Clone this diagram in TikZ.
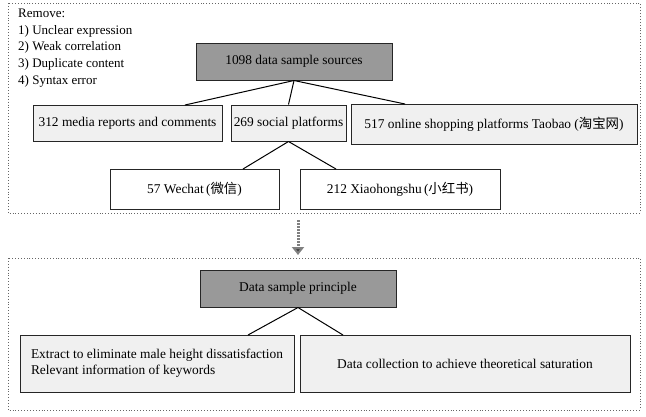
\documentclass[tikz,border=0pt]{standalone}
\usepackage{fontspec}
\setmainfont{Liberation Serif}
\newfontfamily\cjk{Noto Sans CJK SC}
\usetikzlibrary{arrows.meta}
\begin{document}
\begin{tikzpicture}[x=1pt,y=-1pt,
  bx/.style={draw=black!85,line width=1pt,fill=#1,inner sep=0pt,font=\fontsize{13.4}{16}\selectfont,align=center},
  bx/.default=black!6,
  frame/.style={draw=black!60,dotted,line width=0.9pt},
  ln/.style={draw=black,line width=1pt}]
\useasboundingbox (0,0) rectangle (646,416);
\draw[frame] (8,3) rectangle (640,213);
\draw[frame] (8,258) rectangle (640,410);
\node[anchor=north west,align=left,inner sep=0pt,font=\fontsize{13}{16.6}\selectfont] (rm) at (18,9) {Remove:\\1) Unclear expression\\2) Weak correlation\\3) Duplicate content\\4) Syntax error};
\node[bx=black!40,minimum width=196pt,minimum height=37pt] (root) at (294,61.5) {1098 data sample sources};
\node[bx,minimum width=189pt,minimum height=36pt] (a) at (127.5,123) {312 media reports and comments};
\node[bx,minimum width=115pt,minimum height=36pt] (b) at (288.5,123) {269 social platforms};
\node[bx,minimum width=286pt,minimum height=40pt] (c) at (494,124) {517 online shopping platforms Taobao ({\cjk 淘宝网})};
\node[bx=white,minimum width=169pt,minimum height=40pt] (d) at (194.5,189) {57 Wechat\,({\cjk 微信})};
\node[bx=white,minimum width=200pt,minimum height=40pt] (e) at (400,189) {212 Xiaohongshu\,({\cjk 小红书})};
\draw[ln] (root.south) -- (185,105);
\draw[ln] (root.south) -- (b.north);
\draw[ln] (root.south) -- (405,104);
\draw[ln] (b.south) -- (243,169);
\draw[ln] (b.south) -- (336,169);
\coordinate (s) at (298,220);
\coordinate (t) at (298,255);
\draw[draw=black!50,line width=3pt,dash pattern=on 1.5pt off 1.5pt,-{Triangle[length=8pt,width=12pt,fill=black!75]}] (s) -- (t);
\node[bx=black!40,minimum width=196pt,minimum height=37pt] (p) at (298,288.5) {Data sample principle};
\node[bx,minimum width=274pt,minimum height=57pt,align=left] (f) at (157,363.5) {Extract to eliminate male height dissatisfaction\\Relevant information of keywords};
\node[bx,minimum width=330pt,minimum height=57pt] (g) at (465,363.5) {Data collection to achieve theoretical saturation};
\draw[ln] (p.south) -- (248,335);
\draw[ln] (p.south) -- (343,335);
\end{tikzpicture}
\end{document}
